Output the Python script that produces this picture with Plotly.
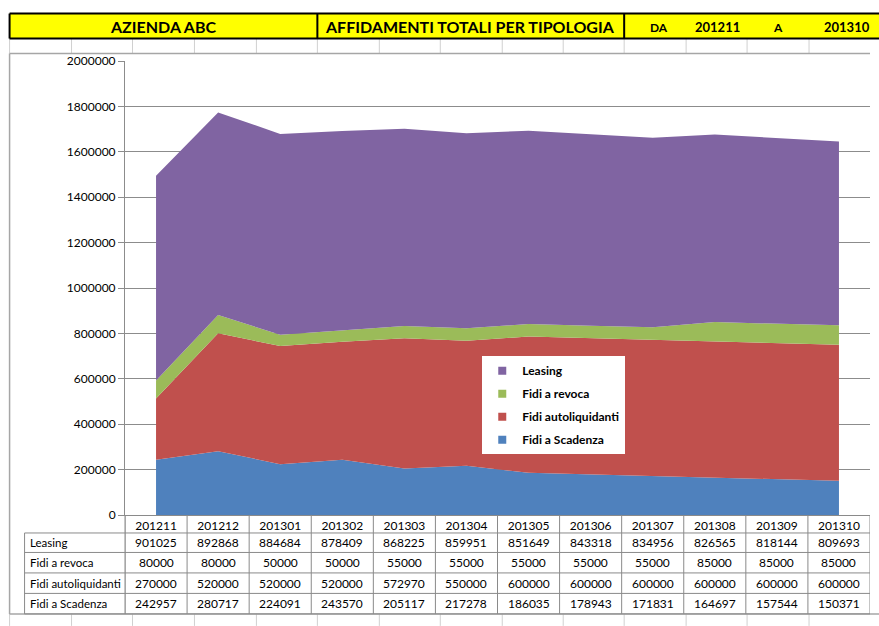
import plotly.graph_objects as go

# ---------------- data ----------------
periods = ["201211", "201212", "201301", "201302", "201303", "201304",
           "201305", "201306", "201307", "201308", "201309", "201310"]
leasing = [901025, 892868, 884684, 878409, 868225, 859951,
           851649, 843318, 834956, 826565, 818144, 809693]
fidi_revoca = [80000, 80000, 50000, 50000, 55000, 55000,
               55000, 55000, 55000, 85000, 85000, 85000]
fidi_autoliquidanti = [270000, 520000, 520000, 520000, 572970, 550000,
                       600000, 600000, 600000, 600000, 600000, 600000]
fidi_scadenza = [242957, 280717, 224091, 243570, 205117, 217278,
                 186035, 178943, 171831, 164697, 157544, 150371]
y_ticks = [0, 200000, 400000, 600000, 800000, 1000000,
           1200000, 1400000, 1600000, 1800000, 2000000]
header_left = "AZIENDA ABC"
header_mid = "AFFIDAMENTI TOTALI PER TIPOLOGIA"
header_from_label, header_to_label = "DA", "A"

# series, bottom of the stack first
series = [
    ("Fidi a Scadenza", fidi_scadenza, "#4F81BD"),
    ("Fidi autoliquidanti", fidi_autoliquidanti, "#C0504D"),
    ("Fidi a revoca", fidi_revoca, "#9BBB59"),
    ("Leasing", leasing, "#8064A2"),
]
table_rows = [("Leasing", leasing), ("Fidi a revoca", fidi_revoca),
              ("Fidi autoliquidanti", fidi_autoliquidanti),
              ("Fidi a Scadenza", fidi_scadenza)]

# ---------------- layout geometry (pixels) ----------------
W, H = 879, 626
PL, PR, PT, PB = 124.5, 870.0, 60.5, 515.0


def X(px):
    return (px - PL) / (PR - PL)


def Y(py):
    return (PB - py) / (PB - PT)


FONT = "Lato"
GRID = "#8C8C8C"
TABLE_LINE = "#8A8A8A"
SHEET = "#D0D0D0"

fig = go.Figure()
for name, vals, color in series:
    fig.add_trace(go.Scatter(
        x=periods, y=vals, name=name, mode="lines", stackgroup="one",
        line=dict(width=0, color=color), fillcolor=color,
        showlegend=False, hoverinfo="x+y+name"))
# legend entries (square swatches like the original)
for name, vals, color in reversed(series):
    fig.add_trace(go.Scatter(
        x=[None], y=[None], name=name, mode="markers",
        marker=dict(symbol="square", size=8, color=color),
        legendgroup=name, showlegend=True))

shapes = []
annotations = []


def line(x0, y0, x1, y1, color, width=1):
    shapes.append(dict(type="line", xref="paper", yref="paper",
                       x0=X(x0), y0=Y(y0), x1=X(x1), y1=Y(y1),
                       line=dict(color=color, width=width), layer="above"))


# spreadsheet cell grid (background)
col_edges = [9, 71, 132, 194, 256, 317, 379, 440, 502, 563, 624, 686, 747, 809]
for cx in col_edges:
    line(cx, 38, cx, 53, SHEET)
    line(cx, 614, cx, 626, SHEET)

# yellow header band
shapes.append(dict(type="rect", xref="paper", yref="paper",
                   x0=X(9), x1=X(880), y0=Y(38), y1=Y(13),
                   fillcolor="#FFFF00", line=dict(width=0), layer="above"))
line(9, 13, 880, 13, "#000000", 2)
line(9, 38, 880, 38, "#000000", 2)
line(9, 13, 9, 38, "#000000", 2)
line(317, 13, 317, 38, "#000000", 2)
line(624, 13, 624, 38, "#000000", 2)

# chart area border
line(9, 53, 870, 53, "#A6A6A6", 1.5)
line(9, 53, 9, 614, "#A6A6A6", 1.5)
line(9, 614, 879, 614, "#A6A6A6", 1.5)


def text(px, py, s, size, bold=False, anchor="center"):
    annotations.append(dict(
        xref="paper", yref="paper", x=X(px), y=Y(py), text=s,
        showarrow=False, xanchor=anchor, yanchor="middle",
        font=dict(family=FONT, size=size, color="#000000",
                  weight="bold" if bold else "normal")))


text(163, 26, header_left, 16, True)
text(470, 26, header_mid, 16, True)
text(659, 27, header_from_label, 12, True)
text(717, 26, periods[0], 13, True)
text(778, 27, header_to_label, 12, True)
text(847, 26, periods[-1], 13, True)

# data table under the plot
row_lines = [533, 552.5, 573, 593.5, 614]
for ry in row_lines:
    line(24, ry, 870, ry, TABLE_LINE)
line(24, 533, 24, 614, TABLE_LINE)
line(PL, 515, PL, 614, TABLE_LINE)
n = len(periods)
for i in range(n + 1):
    shapes.append(dict(type="line", xref="x", yref="paper",
                       x0=i - 0.5, x1=i - 0.5, y0=Y(515), y1=Y(614),
                       line=dict(color=TABLE_LINE, width=1), layer="above"))

for r, (label, vals) in enumerate(table_rows):
    cy = (row_lines[r] + row_lines[r + 1]) / 2
    text(27, cy, label, 11.5, False, "left")
    for i, v in enumerate(vals):
        annotations.append(dict(
            xref="x", yref="paper", x=i, y=Y(cy), text=str(v),
            showarrow=False, xanchor="center", yanchor="middle",
            font=dict(family=FONT, size=12, color="#000000")))

fig.update_layout(
    width=W, height=H,
    margin=dict(l=PL, r=W - PR, t=PT, b=H - PB, pad=0),
    paper_bgcolor="#FFFFFF", plot_bgcolor="#FFFFFF",
    font=dict(family=FONT, size=12, color="#000000"),
    xaxis=dict(type="category", categoryorder="array", categoryarray=periods,
               range=[-0.5, n - 0.5], showgrid=False, zeroline=False,
               showline=True, linecolor=TABLE_LINE, linewidth=1,
               ticks="", tickfont=dict(family=FONT, size=12, color="#000000"),
               fixedrange=True),
    yaxis=dict(range=[0, 2000000], tickvals=y_ticks,
               ticktext=[str(v) for v in y_ticks],
               showgrid=True, gridcolor=GRID, gridwidth=1, zeroline=False,
               showline=True, linecolor=GRID, linewidth=1,
               ticks="outside", ticklen=6, tickcolor=GRID,
               tickfont=dict(family=FONT, size=12, color="#000000"),
               fixedrange=True),
    legend=dict(x=X(482), y=Y(356), xanchor="left", yanchor="top",
                bgcolor="#FFFFFF", borderwidth=0, tracegroupgap=4,
                font=dict(family=FONT, size=12, color="#000000", weight="bold"),
                itemwidth=30),
    shapes=shapes, annotations=annotations,
    showlegend=True,
)

fig.write_html(
    "out.html",
    config={"displayModeBar": False},
    post_script="document.body.style.margin='0';document.body.style.overflow='hidden';",
)
